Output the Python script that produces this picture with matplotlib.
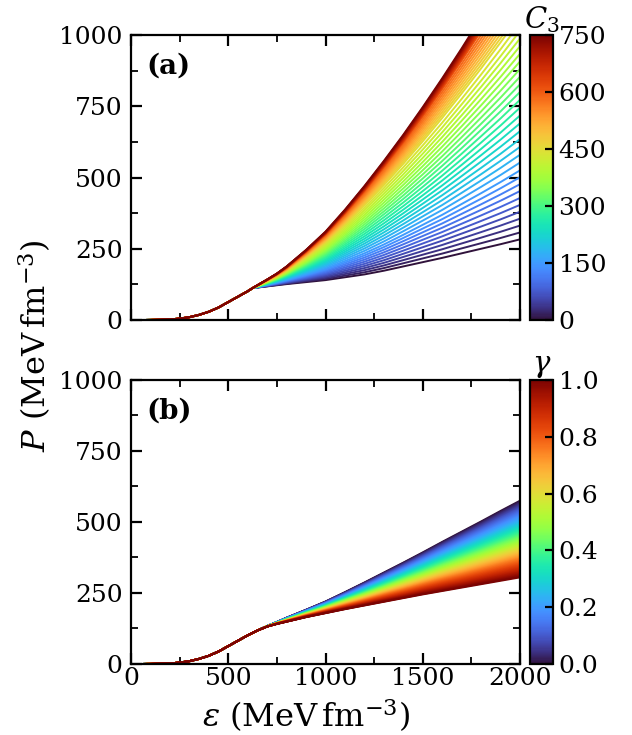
import numpy as np
import matplotlib
matplotlib.use('Agg')
import matplotlib.pyplot as plt
from matplotlib.ticker import MultipleLocator
from matplotlib.cm import ScalarMappable

plt.rcParams['font.family'] = 'serif'
plt.rcParams['mathtext.fontset'] = 'dejavuserif'

# common low-density part of the EoS (same in both panels)
eps_base = np.array([0, 50, 100, 150, 200, 250, 300, 350, 400, 450, 500, 550, 600, 650])
p_base = np.array([0, 0, 0.3, 1, 2, 5, 10, 18, 29, 44, 63, 82, 101, 118])

# panel (a): P read at a few C3 values above the transition
eps_a = np.array([625, 650, 700, 750, 800, 900, 1000, 1100, 1200, 1300,
                  1400, 1500, 1600, 1700, 1800, 1900, 2000])
c3_read = np.array([0, 150, 300, 450, 600, 750])
p_a_read = np.array([
    [112, 114, 118, 122, 126, 133, 140, 150, 160, 173, 188, 203, 218, 234, 250, 266, 283],
    [112, 116, 124, 132, 141, 160, 181, 207, 234, 265, 299, 334, 369, 407, 445, 484, 525],
    [112, 118, 130, 143, 158, 191, 227, 272, 319, 371, 425, 482, 541, 603, 667, 732, 800],
    [112, 120, 137, 154, 174, 221, 273, 335, 402, 473, 548, 627, 709, 795, 883, 974, 1068],
    [112, 122, 141, 161, 184, 239, 300, 373, 451, 535, 622, 714, 810, 910, 1013, 1120, 1230],
    [112, 122, 142, 163, 188, 246, 310, 387, 470, 558, 650, 747, 848, 953, 1062, 1174, 1290],
])
c3_values = np.arange(0, 751, 15)
c3_ticks = [0, 150, 300, 450, 600, 750]

# panel (b): P read at a few gamma values above the transition
eps_b = np.array([700, 750, 800, 900, 1000, 1100, 1200, 1300, 1400, 1500,
                  1600, 1700, 1800, 1900, 2000])
gamma_read = np.array([0, 0.25, 0.5, 0.75, 1.0])
p_b_read = np.array([
    [134, 148, 163, 191, 220, 253, 287, 322, 357, 393, 430, 466, 502, 539, 575],
    [133, 146, 159, 184, 209, 236, 264, 293, 322, 352, 382, 411, 440, 470, 499],
    [133, 144, 155, 177, 198, 221, 243, 266, 290, 313, 337, 360, 383, 406, 429],
    [132, 143, 152, 171, 189, 207, 225, 244, 262, 281, 299, 316, 334, 352, 370],
    [132, 141, 149, 165, 179, 193, 206, 219, 232, 245, 257, 269, 281, 293, 305],
])
gamma_values = np.linspace(0, 1, 101)
gamma_ticks = [0.0, 0.2, 0.4, 0.6, 0.8, 1.0]

cmap = plt.get_cmap('turbo')


def style_axes(ax):
    ax.set_xlim(0, 2000)
    ax.set_ylim(0, 1000)
    ax.xaxis.set_major_locator(MultipleLocator(500))
    ax.xaxis.set_minor_locator(MultipleLocator(250))
    ax.yaxis.set_major_locator(MultipleLocator(250))
    ax.yaxis.set_minor_locator(MultipleLocator(125))
    ax.tick_params(which='both', direction='in', top=True, right=True, labelsize=18)
    ax.tick_params(which='major', length=8, width=1.6)
    ax.tick_params(which='minor', length=5, width=1.3)
    ax.tick_params(axis='y', which='major', pad=6)
    ax.tick_params(axis='x', which='major', pad=2)
    for s in ax.spines.values():
        s.set_linewidth(1.6)


def draw_family(ax, cax, eps_k, par_read, p_read, par_values, vmax, ticks, label, tag, fmt):
    norm = plt.Normalize(0, vmax)
    keep = eps_base < eps_k[0]
    for v in par_values:
        p_k = [np.interp(v, par_read, p_read[:, j]) for j in range(len(eps_k))]
        ax.plot(np.r_[eps_base[keep], eps_k], np.r_[p_base[keep], p_k],
                color=cmap(norm(v)), lw=1.4)
    style_axes(ax)
    ax.text(0.04, 0.89, tag, transform=ax.transAxes, fontsize=20,
            fontweight='bold', va='center')

    sm = ScalarMappable(norm=norm, cmap=cmap)
    cb = plt.colorbar(sm, cax=cax)
    cb.set_ticks(ticks)
    cb.set_ticklabels([fmt.format(t) for t in ticks])
    cb.outline.set_linewidth(1.6)
    cax.tick_params(direction='in', length=6, width=1.6, labelsize=18, pad=4)
    cax.set_title(label, fontsize=21, pad=2)


fig = plt.figure(figsize=(6.32, 7.35), dpi=100)
ax_a = fig.add_axes([0.2073, 0.5646, 0.6155, 0.3878])
cax_a = fig.add_axes([0.8386, 0.5646, 0.0364, 0.3878])
ax_b = fig.add_axes([0.2073, 0.0966, 0.6155, 0.3864])
cax_b = fig.add_axes([0.8386, 0.0966, 0.0364, 0.3864])

draw_family(ax_a, cax_a, eps_a, c3_read, p_a_read, c3_values, 750, c3_ticks,
            '$C_3$', '(a)', '{:.0f}')
draw_family(ax_b, cax_b, eps_b, gamma_read, p_b_read, gamma_values, 1.0, gamma_ticks,
            r'$\gamma$', '(b)', '{:.1f}')

ax_a.tick_params(labelbottom=False)
ax_b.set_xlabel(r'$\varepsilon$ (MeV$\,$fm$^{-3}$)', fontsize=23)
ax_b.xaxis.set_label_coords(0.45, -0.115)
fig.text(0.054, 0.53, r'$P$ (MeV$\,$fm$^{-3}$)', fontsize=23, rotation=90,
         ha='center', va='center')

fig.savefig('out.png', dpi=100)
